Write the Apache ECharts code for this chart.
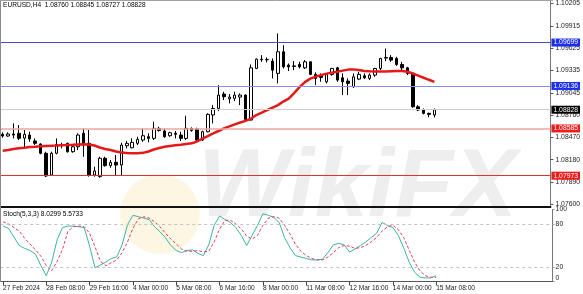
<!DOCTYPE html>
<html><head><meta charset="utf-8">
<script src="https://cdn.jsdelivr.net/npm/echarts@6/dist/echarts.min.js"></script>
<style>html,body{margin:0;padding:0;background:#fff}#c{width:583px;height:294px}</style>
</head><body><div id="c"></div>
<script>
const tickLabels = ["27 Feb 2024","28 Feb 08:00","29 Feb 16:00","4 Mar 00:00","5 Mar 08:00","6 Mar 16:00","8 Mar 00:00","11 Mar 08:00","12 Mar 16:00","14 Mar 00:00","15 Mar 08:00"];
const priceTicks = [1.10205,1.09915,1.09625,1.09335,1.09045,1.08760,1.08470,1.08180,1.07890,1.07600];
const stochTicks = [0,20,80,100];
const openP = [1.08509,1.08487,1.08513,1.08522,1.08460,1.08500,1.08422,1.08383,1.08263,1.07982,
1.08263,1.08366,1.08392,1.08284,1.08348,1.08522,1.08392,1.07982,1.07960,1.08198,
1.08103,1.08146,1.08111,1.08361,1.08335,1.08392,1.08435,1.08478,1.08457,1.08586,
1.08552,1.08491,1.08522,1.08500,1.08457,1.08586,1.08578,1.08435,1.08543,1.08760,
1.08845,1.09031,1.08970,1.08975,1.08992,1.09018,1.08694,1.09363,1.09484,1.09476,
1.09458,1.09299,1.09579,1.09406,1.09389,1.09415,1.09371,1.09449,1.09286,1.09268,
1.09190,1.09286,1.09371,1.09242,1.09199,1.09125,1.09225,1.09268,1.09234,1.09277,
1.09363,1.09497,1.09506,1.09493,1.09415,1.09371,1.09299,1.08866,1.08824,1.08781,1.08760];
const closeP = [1.08487,1.08513,1.08500,1.08457,1.08509,1.08448,1.08392,1.08263,1.07969,1.08263,
1.08379,1.08374,1.08284,1.08348,1.08500,1.08370,1.07982,1.08034,1.08198,1.08103,
1.08146,1.08111,1.08370,1.08392,1.08405,1.08444,1.08491,1.08457,1.08586,1.08560,
1.08478,1.08530,1.08509,1.08457,1.08586,1.08560,1.08435,1.08543,1.08768,1.08845,
1.09018,1.08996,1.08992,1.09018,1.09018,1.08703,1.09371,1.09484,1.09476,1.09480,
1.09341,1.09579,1.09384,1.09384,1.09397,1.09384,1.09449,1.09286,1.09234,1.09247,
1.09286,1.09363,1.09212,1.09190,1.09169,1.09255,1.09286,1.09242,1.09277,1.09363,
1.09493,1.09506,1.09471,1.09415,1.09371,1.09299,1.08866,1.08824,1.08781,1.08768,1.08828];
const lowP = [1.08465,1.08478,1.08457,1.08435,1.08327,1.08413,1.08370,1.08250,1.07956,1.07969,
1.08250,1.08327,1.08271,1.08271,1.08306,1.08219,1.07960,1.07960,1.07947,1.08089,
1.08076,1.07969,1.07969,1.08327,1.08327,1.08370,1.08413,1.08405,1.08435,1.08543,
1.08465,1.08478,1.08457,1.08422,1.08435,1.08543,1.08422,1.08422,1.08535,1.08651,
1.08810,1.08953,1.08910,1.08940,1.08888,1.08694,1.08690,1.09355,1.09449,1.09441,
1.09234,1.09169,1.09363,1.09329,1.09341,1.09363,1.09355,1.09277,1.09147,1.09190,
1.09169,1.09268,1.09190,1.09018,1.09018,1.09113,1.09212,1.09225,1.09212,1.09255,
1.09341,1.09458,1.09449,1.09397,1.09341,1.09277,1.08853,1.08810,1.08768,1.08730,1.08727];
const highP = [1.08535,1.08535,1.08651,1.08629,1.08565,1.08543,1.08457,1.08392,1.08284,1.08284,
1.08457,1.08400,1.08400,1.08361,1.08522,1.08586,1.08565,1.08089,1.08219,1.08219,
1.08176,1.08241,1.08400,1.08422,1.08457,1.08478,1.08586,1.08522,1.08672,1.08608,
1.08586,1.08543,1.08552,1.08543,1.08750,1.08599,1.08595,1.08556,1.08781,1.08888,
1.09147,1.09061,1.09031,1.09061,1.09040,1.09027,1.09415,1.09493,1.09536,1.09506,
1.09493,1.09817,1.09665,1.09428,1.09458,1.09449,1.09471,1.09449,1.09312,1.09299,
1.09299,1.09371,1.09384,1.09299,1.09234,1.09299,1.09320,1.09299,1.09299,1.09371,
1.09501,1.09622,1.09536,1.09514,1.09449,1.09384,1.09299,1.08888,1.08845,1.08790,1.08845];
const maLine = [1.08296,1.08306,1.08318,1.08328,1.08335,1.08344,1.08348,1.08353,1.08357,1.08361,
1.08364,1.08368,1.08370,1.08373,1.08377,1.08379,1.08377,1.08364,1.08338,1.08318,
1.08306,1.08286,1.08273,1.08267,1.08263,1.08263,1.08269,1.08286,1.08312,1.08331,
1.08347,1.08357,1.08366,1.08373,1.08383,1.08392,1.08416,1.08454,1.08487,1.08522,
1.08552,1.08587,1.08612,1.08638,1.08662,1.08684,1.08713,1.08759,1.08791,1.08824,
1.08856,1.08888,1.08934,1.08972,1.09044,1.09121,1.09186,1.09231,1.09257,1.09277,
1.09296,1.09309,1.09320,1.09335,1.09348,1.09351,1.09344,1.09331,1.09326,1.09325,
1.09325,1.09322,1.09326,1.09329,1.09331,1.09320,1.09298,1.09270,1.09243,1.09216,1.09190];
const stochK = [77,74,62,50,46,43,38,22,8,27,58,75,77,77,76,75,49,19,23,27,32,34,51,79,92,90,88,86,76,69,
61,50,43,40,43,44,39,36,51,78,91,86,82,75,64,50,64,78,94,92,89,82,61,47,36,34,32,30,30,31,
40,51,53,51,41,45,50,55,61,67,82,78,75,64,47,27,13,6,5,5,8.0299];
const stochD = [83,80,75,70,60,52,44,35,22,15,28,45,70,76,77,76,67,48,28,22,26,30,40,55,74,87,90,88,83,76,
67,59,52,45,42,42,43,41,42,55,73,85,85,80,73,63,59,64,78,88,90,88,78,66,52,42,36,32,30,30,
34,40,47,50,49,46,47,50,55,61,70,76,78,72,61,44,27,15,8,6,5.5733];
const levels = [
  {v:1.09699, line:'#4a4ac4', box:'#1c2ef0', w:1},
  {v:1.09136, line:'#8c8ce0', box:'#1c2ef0', w:1},
  {v:1.08828, line:'#cfcfcf', box:'#000000', w:1},
  {v:1.08585, line:'#f2a4a4', box:'#f01c1c', w:1.5},
  {v:1.07973, line:'#e03232', box:'#f01c1c', w:1}
];
const headerText = 'EURUSD,H4  1.08760 1.08845 1.08727 1.08828';
const stochText = 'Stoch(5,3,3) 8.0299 5.5733';

const NCAT = 102;
const cats = Array.from({length: NCAT}, (_, i) => String(i));
const showIdx = i => i % 8 === 0 && i / 8 < tickLabels.length;
const FONT = 'Liberation Sans';

const chart = echarts.init(document.getElementById('c'), null, {renderer: 'canvas'});
chart.setOption({
  animation: false,
  backgroundColor: '#ffffff',
  grid: [
    {left: -1.9, right: 30.4, top: 0, height: 207},
    {left: -1.9, right: 30.4, top: 209.5, height: 72}
  ],
  xAxis: [
    {type: 'category', gridIndex: 0, data: cats, boundaryGap: true,
     axisLine: {show: true, lineStyle: {color: '#111', width: 2}},
     axisTick: {show: false}, axisLabel: {show: false}, splitLine: {show: false}},
    {type: 'category', gridIndex: 1, data: cats, boundaryGap: true,
     axisLine: {show: true, lineStyle: {color: '#555', width: 1}},
     axisTick: {show: true, alignWithLabel: true, length: 4, interval: (i) => showIdx(i), lineStyle: {color: '#444'}},
     axisLabel: {show: true, interval: (i) => showIdx(i), align: 'left', margin: 3, fontSize: 6.6, fontFamily: FONT, color: '#222',
       formatter: (v, i) => showIdx(i) ? tickLabels[i / 8] : ''},
     splitLine: {show: false}}
  ],
  yAxis: [
    {type: 'value', gridIndex: 0, position: 'right', min: 1.07567, max: 1.10248, scale: true,
     axisLine: {show: true, lineStyle: {color: '#777'}},
     axisTick: {show: true, length: 3, customValues: priceTicks, lineStyle: {color: '#555'}},
     axisLabel: {show: true, customValues: priceTicks, margin: 5, fontSize: 6.8, fontFamily: FONT, color: '#222',
       formatter: v => v.toFixed(5)},
     splitLine: {show: false}},
    {type: 'value', gridIndex: 1, position: 'right', min: 0, max: 100,
     axisLine: {show: true, lineStyle: {color: '#777'}},
     axisTick: {show: true, length: 2, customValues: stochTicks, lineStyle: {color: '#999'}},
     axisLabel: {show: true, customValues: stochTicks, margin: 3, fontSize: 6.8, fontFamily: FONT, color: '#222',
       verticalAlignMinLabel: 'bottom'},
     splitLine: {show: false}}
  ],
  graphic: [
    {type: 'text', z: 0, left: 198, top: 142, silent: true,
     style: {text: 'WikiFX', font: 'italic bold 96px "Liberation Sans"', fill: 'rgba(140,140,140,0.15)'}},
    {type: 'circle', z: 0, silent: true, shape: {cx: 160, cy: 214, r: 40},
     style: {fill: 'rgba(245,200,80,0.16)'}},
    {type: 'line', z: 10, silent: true, shape: {x1: 0.5, y1: 0, x2: 0.5, y2: 282}, style: {stroke: '#8a8a8a', lineWidth: 1}},
    {type: 'line', z: 10, silent: true, shape: {x1: 0, y1: 0.5, x2: 553, y2: 0.5}, style: {stroke: '#a0a0a0', lineWidth: 1}},
    {type: 'text', z: 20, left: 3, top: 2, silent: true,
     style: {text: headerText, font: '6.6px "Liberation Sans"', fill: '#000'}},
    {type: 'text', z: 20, left: 3, top: 211, silent: true,
     style: {text: stochText, font: '6.6px "Liberation Sans"', fill: '#000'}}
  ],
  series: [
    {type: 'candlestick', name: 'EURUSD', xAxisIndex: 0, yAxisIndex: 0, barWidth: 3,
     data: openP.map((o, i) => [o, closeP[i], lowP[i], highP[i]]),
     itemStyle: {color: '#ffffff', color0: '#000000', borderColor: '#000000', borderColor0: '#000000', borderWidth: 1},
     markLine: {
       silent: true, symbol: ['none', 'none'], animation: false, precision: 5,
       label: {show: true, position: 'end', distance: 1, color: '#fff', fontSize: 6.8, fontFamily: FONT,
         padding: [1, 2, 0, 2], formatter: p => Number(p.value).toFixed(5)},
       data: levels.map(l => ({yAxis: l.v, lineStyle: {color: l.line, width: l.w, type: 'solid'},
         label: {backgroundColor: l.box}}))
     }},
    {type: 'line', name: 'MA', xAxisIndex: 0, yAxisIndex: 0, data: maLine, symbol: 'none',
     lineStyle: {color: '#e41a1a', width: 2.5}, z: 3},
    {type: 'line', name: 'K', xAxisIndex: 1, yAxisIndex: 1, data: stochK, symbol: 'none',
     lineStyle: {color: '#3cb4a4', width: 1},
     markLine: {silent: true, symbol: ['none', 'none'], label: {show: false},
       lineStyle: {color: '#c4c4c4', type: [3, 3], width: 1},
       data: [{yAxis: 80}, {yAxis: 20}]}},
    {type: 'line', name: 'D', xAxisIndex: 1, yAxisIndex: 1, data: stochD, symbol: 'none',
     lineStyle: {color: '#e8405a', width: 1, type: [3, 2]}}
  ]
});
</script></body></html>
